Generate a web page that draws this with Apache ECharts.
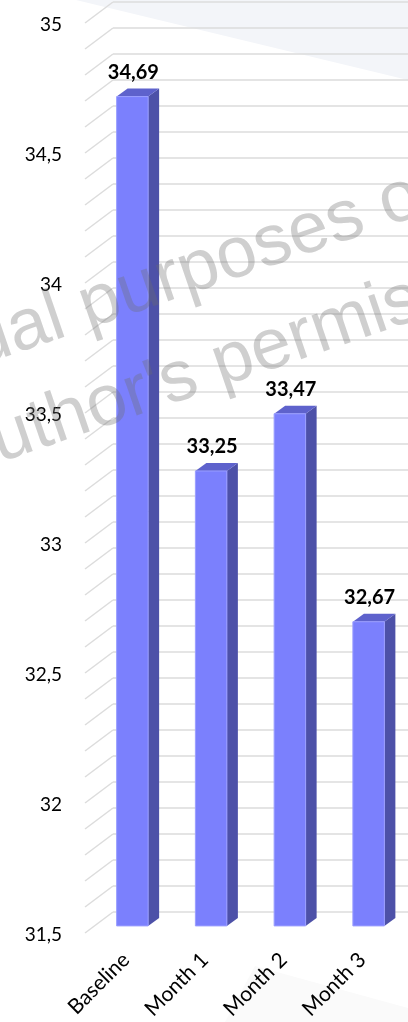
<!DOCTYPE html>
<html>
<head>
<meta charset="utf-8">
<script src="https://cdn.jsdelivr.net/npm/echarts@6/dist/echarts.min.js"></script>
<style>
  html, body { margin: 0; padding: 0; background: #fff; }
  #chart { width: 408px; height: 1022px; }
</style>
</head>
<body>
<div id="chart"></div>
<script>
// data
var categories = ['Baseline', 'Month 1', 'Month 2', 'Month 3'];
var values = [34.69, 33.25, 33.47, 32.67];
var yMin = 31.5, yMax = 35, yStep = 0.5;

// colours of the 3d bars
var frontColor = '#7b80fd';
var sideColor = '#4d51a8';
var topColor = '#5e62cc';
var gridColor = '#dcdcdc';
var markColor = 'rgba(110,110,110,0.33)';

function comma(v) {
  return String(v).replace('.', ',');
}

// minor gridline values on the back wall (0.1 apart)
var wallTicks = [];
for (var t = 0; t <= 35; t++) wallTicks.push(+(yMin + t * 0.1).toFixed(1));

function mark(text, align) {
  return {
    type: 'text', z: 100,
    style: { text: text, align: align, verticalAlign: 'bottom', font: '72px "Liberation Sans"', fill: markColor }
  };
}

var chart = echarts.init(document.getElementById('chart'));

chart.setOption({
  animation: false,
  backgroundColor: '#fff',
  grid: [
    // back wall
    { left: 113, right: -40, top: 2, bottom: 110 },
    // label plane
    { left: 85, right: -40, top: 25, bottom: 87 },
    // bar front plane
    { left: 93, right: -5, top: 16, bottom: 96 }
  ],
  xAxis: [
    { gridIndex: 0, type: 'value', min: 0, max: 1, show: false },
    { gridIndex: 1, type: 'value', min: 0, max: 1, show: false },
    {
      gridIndex: 2, type: 'category', data: categories,
      axisLine: { show: false }, axisTick: { show: false },
      axisLabel: {
        rotate: 45, margin: 24, interval: 0, padding: [0, 9, 0, 0],
        color: '#000', fontSize: 21, fontFamily: 'Lato'
      }
    }
  ],
  yAxis: [
    {
      gridIndex: 0, type: 'value', min: yMin, max: yMax, interval: yStep,
      axisLine: { show: false }, axisTick: { show: false }, axisLabel: { show: false },
      splitLine: { lineStyle: { color: gridColor, width: 1.5 } },
      minorTick: { show: false, splitNumber: 5 },
      minorSplitLine: { show: true, lineStyle: { color: gridColor, width: 1.5 } }
    },
    {
      gridIndex: 1, type: 'value', min: yMin, max: yMax, interval: yStep,
      axisLine: { show: false }, axisTick: { show: false }, splitLine: { show: false },
      axisLabel: {
        margin: 23, color: '#000', fontSize: 19, fontFamily: 'Lato',
        formatter: comma
      }
    },
    {
      gridIndex: 2, type: 'value', min: yMin, max: yMax, show: false
    }
  ],
  graphic: [
    {
      type: 'polygon', z: -10, silent: true,
      shape: { points: [[76, 0], [408, 0], [408, 80]] },
      style: { fill: '#f3f5f9' }
    },
    {
      type: 'polygon', z: -10, silent: true,
      shape: { points: [[225, 1022], [255, 966], [408, 1008], [408, 1022]] },
      style: { fill: '#fafafa' }
    },
    // watermark
    {
      type: 'group', x: 93, y: 344, rotation: 0.33, z: 100, silent: true,
      children: [mark('For individual ', 'right'), mark('purposes only', 'left')]
    },
    {
      type: 'group', x: 226, y: 402, rotation: 0.33, z: 100, silent: true,
      children: [mark("without author's ", 'right'), mark('permission', 'left')]
    }
  ],
  series: [
    {
      // side-wall stubs of the gridlines
      type: 'custom', xAxisIndex: 0, yAxisIndex: 0, silent: true, z: 1,
      data: wallTicks.map(function (v) { return [0, v]; }),
      renderItem: function (params, api) {
        var p = api.coord([0, api.value(1)]);
        return {
          type: 'line',
          shape: { x1: p[0] - 28, y1: p[1] + 21, x2: p[0], y2: p[1] },
          style: { stroke: gridColor, lineWidth: 1.5 }
        };
      }
    },
    {
      type: 'custom', xAxisIndex: 2, yAxisIndex: 2, z: 5,
      data: values.map(function (v, i) { return [i, v]; }),
      renderItem: function (params, api) {
        var top = api.coord([api.value(0), api.value(1)]);
        var base = api.coord([api.value(0), yMin]);
        var bw = api.size([1, 0])[0] * 0.4;
        var x0 = top[0] - bw / 2, x1 = top[0] + bw / 2;
        var dx = 11, dy = 8;
        return {
          type: 'group',
          children: [
            { type: 'polygon', shape: { points: [[x1, top[1]], [x1 + dx, top[1] - dy], [x1 + dx, base[1] - dy], [x1, base[1]]] }, style: { fill: sideColor } },
            { type: 'polygon', shape: { points: [[x0, top[1]], [x0 + dx, top[1] - dy], [x1 + dx, top[1] - dy], [x1, top[1]]] }, style: { fill: topColor } },
            { type: 'rect', shape: { x: x0, y: top[1], width: bw, height: base[1] - top[1] }, style: { fill: frontColor, stroke: '#9a9eff', lineWidth: 1 } },
            {
              type: 'text',
              style: {
                text: comma(api.value(1).toFixed(2)),
                x: top[0] + 1, y: top[1] - dy - 6,
                align: 'center', verticalAlign: 'bottom',
                font: 'bold 20px Lato', fill: '#000'
              }
            }
          ]
        };
      }
    }
  ]
});
</script>
</body>
</html>
